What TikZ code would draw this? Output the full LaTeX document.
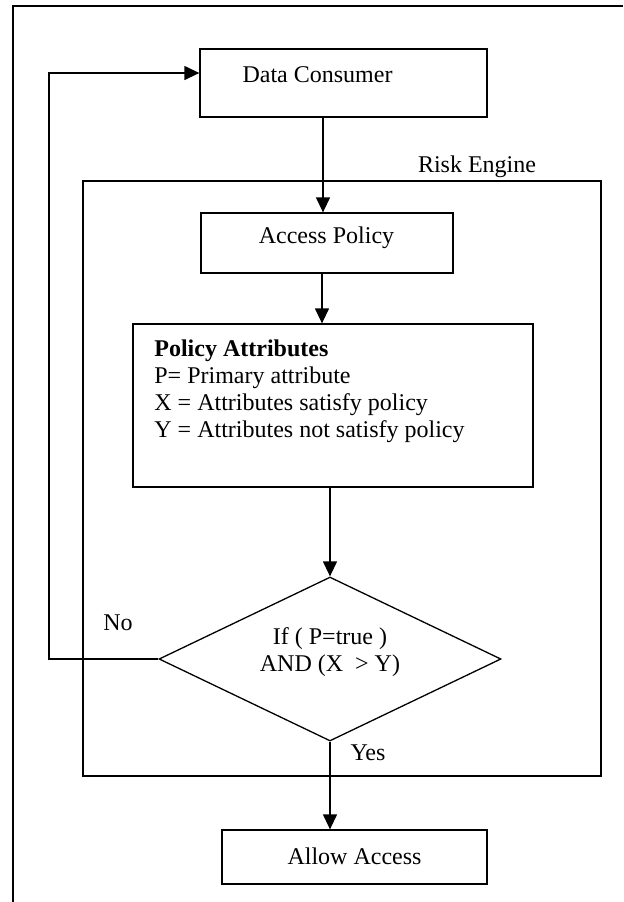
\documentclass[tikz,border=0pt]{standalone}
\usepackage{fontspec}
\setmainfont{Liberation Serif}
\usetikzlibrary{shapes.geometric,arrows.meta}
\begin{document}
\begin{tikzpicture}[x=0.5pt,y=-0.5pt,
  every node/.style={font=\fontsize{12}{13.5}\selectfont},
  box/.style={draw,line width=0.65pt,rectangle,inner sep=0pt},
  txt/.style={inner sep=0pt},
  ln/.style={line width=0.65pt},
  arr/.style={line width=0.65pt,-{Triangle[length=7.5pt,width=7pt]}}]
\useasboundingbox (0,0) rectangle (623,902);
% outer frame (cut off at right and bottom)
\draw[ln] (13,902) -- (13,6) -- (623,6);
% boxes
\node[box,minimum width=143.5pt,minimum height=34pt] (dc) at (343.5,83) {};
\node[txt] (dct) at (317.5,75) {Data Consumer};
\node[box,minimum width=259pt,minimum height=297.5pt] (re) at (342,478.5) {};
\node[txt] (ret) at (477,167) {Risk Engine};
\node[box,minimum width=126pt,minimum height=30pt] (ap) at (327,243) {};
\node[txt] (apt) at (326.5,238) {Access Policy};
\node[box,minimum width=200pt,minimum height=81.5pt] (pa) at (333,405.5) {};
\node[txt,align=left,anchor=west] (pat) at (154,391) {\textbf{Policy Attributes}\\P= Primary attribute\\X = Attributes satisfy policy\\Y = Attributes not satisfy policy};
\node[draw,line width=0.65pt,diamond,inner sep=0pt,minimum width=171pt,minimum height=82pt] (dia) at (330,659) {};
\node[txt,align=center] (diat) at (330,652) {If ( P=true )\\AND (X~ > Y)};
\node[box,minimum width=132.5pt,minimum height=27pt] (aa) at (354.5,857) {};
\node[txt] (aat) at (354.5,856) {Allow Access};
\node[txt] (no) at (118,623) {No};
\node[txt] (yes) at (368,753) {Yes};
\coordinate (fb) at (49,73);
% connectors
\draw[arr] ([xshift=-10.25pt]dc.south) -- ([xshift=-10.25pt]dc.south |- ap.north);
\draw[arr] ([xshift=-2.5pt]ap.south) -- ([xshift=-2.5pt]ap.south |- pa.north);
\draw[arr] (pa.south -| dia.north) -- (dia.north);
\draw[arr] (dia.south) -- (dia.south |- aa.north);
\draw[arr] (dia.west) -| (fb) -- (fb -| dc.west);
\end{tikzpicture}
\end{document}
